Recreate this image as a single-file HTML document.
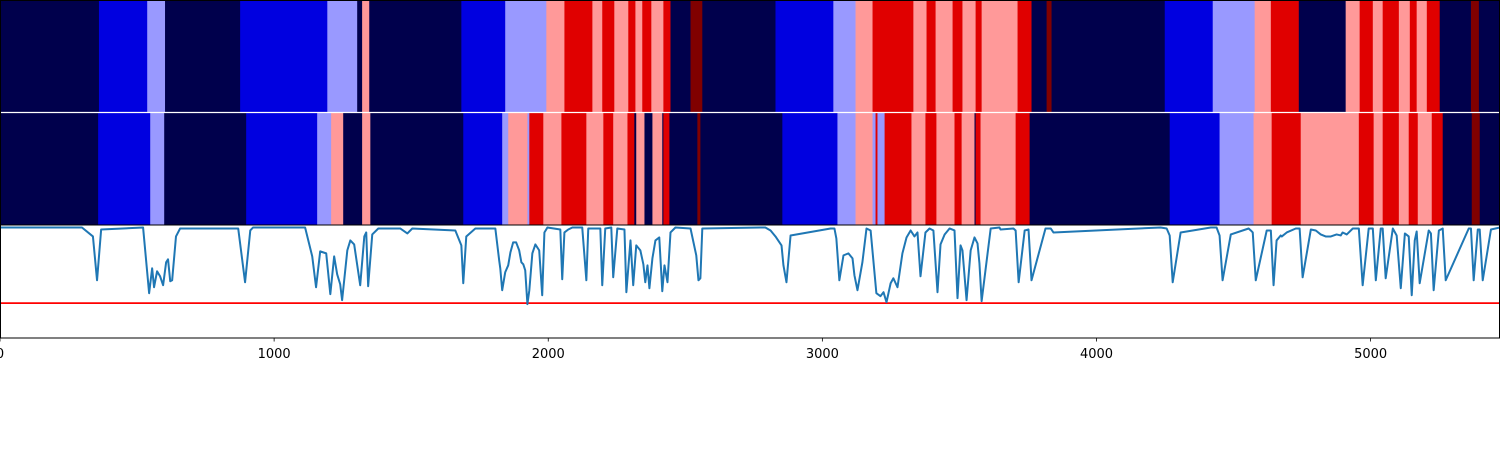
<!DOCTYPE html>
<html><head><meta charset="utf-8">
<style>
html,body{margin:0;padding:0;background:#fff;}
svg{display:block;}
text{font-family:"DejaVu Sans","Liberation Sans",sans-serif;font-size:13px;fill:#000;}
</style></head>
<body>
<svg id="chart" width="1500" height="450" viewBox="0 0 1500 450" xmlns="http://www.w3.org/2000/svg"></svg>
<script>
// ---- data ----
const xDomainMax = 5472;
const classColors = ["#00004c","#0000e0","#9999ff","#ff9999","#e00000","#800000"];
// top heatmap row: segment starts and class ids
const row1Starts = [0,361,537,602,876,1194,1303,1321,1347,1683,1843,1993,2059,2161,2197,2241,2292,2318,2343,2376,2420,2446,2519,2562,2829,3040,3121,3183,3332,3380,3413,3475,3511,3559,3581,3712,3763,3818,3836,4249,4424,4577,4636,4738,4909,4960,5008,5044,5103,5143,5168,5205,5252,5366,5395];
const row1Classes = [0,1,2,0,1,2,0,3,0,1,2,3,4,3,4,3,4,3,4,3,4,0,5,0,1,2,3,4,3,4,3,4,3,4,3,4,0,5,0,1,2,3,4,0,3,4,3,4,3,4,3,4,0,5,0];
// second heatmap row
const row2Starts = [0,358,548,599,898,1157,1208,1252,1321,1351,1690,1832,1854,1924,1931,1982,2048,2139,2201,2237,2289,2314,2321,2351,2380,2416,2420,2442,2544,2555,2854,3055,3121,3183,3194,3201,3227,3325,3376,3416,3482,3508,3555,3559,3577,3705,3756,4267,4449,4573,4639,4745,4957,5011,5044,5103,5139,5172,5223,5263,5369,5398];
const row2Classes = [0,1,2,0,1,2,3,0,3,0,1,2,3,2,4,3,4,3,4,3,4,0,3,0,3,0,4,0,5,0,1,2,3,2,4,2,4,3,4,3,4,3,0,4,3,4,0,1,2,3,4,3,4,3,4,3,4,3,4,0,5,0];
// line series (score, 0..113 scale)
const lineX = [0,299,339,354,369,522,544,555,562,573,584,595,606,613,621,628,642,657,869,894,913,923,1113,1139,1153,1168,1190,1205,1219,1230,1241,1248,1267,1278,1292,1314,1329,1336,1343,1358,1380,1460,1486,1504,1661,1683,1690,1701,1734,1807,1821,
1825,1832,1843,1854,1862,1872,1883,1894,1902,1909,1916,1924,1931,1942,1953,1967,1978,1986,1997,2044,2051,2059,2073,2088,2124,2139,2146,2190,2197,2208,2230,2237,2252,2278,2285,2300,2310,2321,2336,2347,2354,2362,2369,2380,2391,2405,2416,2424,2435,2446,2464,2519,2540,2548,2555,2562,2774,2792,2811,2829,2851,2858,2869,2884,3030,3044,3051,3062,3077,3095,3110,3117,3128,3146,3161,3176,3197,3212,3223,3234,3249,3259,3274,3292,3307,3322,3336,3347,3358,3376,3391,3405,3420,3431,3446,3464,3482,3493,3504,3511,3526,3541,3555,3566,3573,3581,3614,3646,
3650,3697,3705,3716,3738,3752,3763,3814,3833,3843,4234,4256,4267,4278,4307,4417,4438,4449,4460,4490,4555,4563,4570,4581,4621,4636,4646,4657,4672,4676,4694,4727,4741,4752,4782,4800,4818,4836,4855,4876,4891,4898,4913,4935,4957,4971,4993,5008,5019,5037,5044,5055,5081,5095,5110,5125,5139,5150,5161,5168,5179,5212,5220,5230,5249,5263,5274,5358,5366,5376,5391,5398,5409,5439,5472];
const lineV = [111,111,102,58,109,111,45,70,51,67,62,53,76,79,57,58,102,110,110,56,108,111,111,82,51,87,85,44,82,64,54,38,88,98,94,53,102,106,52,104,110,110,105,110,108,93,55,102,110,110,78,
70,48,66,73,86,96,96,88,76,74,68,34,48,85,94,88,43,106,111,109,59,106,109,111,111,58,110,110,53,110,111,61,110,109,46,98,53,93,88,74,56,73,50,80,98,101,47,73,56,106,111,110,83,58,60,110,111,111,108,102,93,73,56,103,110,110,100,58,83,85,80,63,48,76,110,108,45,42,46,36,55,60,51,85,101,108,102,106,62,106,110,108,46,94,104,110,108,40,93,88,38,88,101,95,75,37,110,111,109,
110,108,56,108,109,58,110,110,106,111,110,103,56,106,111,111,103,58,104,110,108,106,58,108,108,53,98,103,102,106,110,110,61,109,108,104,102,102,104,103,106,104,110,110,53,110,110,58,110,110,60,110,103,50,105,102,43,98,107,55,108,105,48,108,110,58,110,110,58,109,109,58,109,111,110];
const threshold = 35;
const xTicks = [0,1000,2000,3000,4000,5000];
const xTickLabels = ["0","1000","2000","3000","4000","5000"];

// ---- drawing ----
const NS = "http://www.w3.org/2000/svg";
const svg = document.getElementById("chart");
const W = 1500;
function xs(v){ return v * W / xDomainMax; }
const lineTop = 225.5, lineBot = 338;
function ys(v){ return lineBot - v * (lineBot - lineTop) / 113; }
function mk(tag, attrs){ const e = document.createElementNS(NS, tag); for (const k in attrs) e.setAttribute(k, attrs[k]); return e; }

function drawRow(starts, classes, y0, h, rowName){
  const g = mk("g", {});
  
  
  for (let i = 0; i < starts.length; i++){
    const s = starts[i], e = i + 1 < starts.length ? starts[i+1] : xDomainMax;
    const r = mk("rect", {x: xs(s), y: y0, width: Math.max(0.6, xs(e) - xs(s)) + 0.4, height: h, fill: classColors[classes[i]]});
    
    
    g.appendChild(r);
  }
  svg.appendChild(g);
}
drawRow(row1Starts, row1Classes, 0, 112, 'heatmap-row-top');
drawRow(row2Starts, row2Classes, 113, 112.5, 'heatmap-row-bottom');

const sep = mk("line", {x1:0, x2:W, y1:112.5, y2:112.5, stroke:"#fff", "stroke-width":1.2});


svg.appendChild(sep);

const frame1 = mk("rect", {x:0.5, y:0.5, width:W-1, height:224.5, fill:"none", stroke:"#000", "stroke-width":1});


svg.appendChild(frame1);

// threshold line
const th = mk("line", {x1:0, x2:W, y1:ys(threshold), y2:ys(threshold), stroke:"#ff0000", "stroke-width":1.8});


svg.appendChild(th);

// series line
let d = "";
for (let i = 0; i < lineX.length; i++){ d += (i ? "L" : "M") + xs(lineX[i]).toFixed(2) + "," + ys(lineV[i]).toFixed(2); }
const path = mk("path", {d: d, fill:"none", stroke:"#1f77b4", "stroke-width":2, "stroke-linejoin":"round"});


svg.appendChild(path);

const frame2 = mk("rect", {x:0.5, y:225, width:W-1, height:113, fill:"none", stroke:"#000", "stroke-width":1});


svg.appendChild(frame2);

// x axis ticks
const axis = mk("g", {});


for (let i = 0; i < xTicks.length; i++){
  const x = xs(xTicks[i]);
  const t = mk("line", {x1:x, x2:x, y1:338, y2:341.5, stroke:"#000", "stroke-width":0.8});
  
  
  axis.appendChild(t);
  const lb = mk("text", {x:x, y:358, "text-anchor":"middle"});
  lb.textContent = xTickLabels[i];
  
  
  axis.appendChild(lb);
}
svg.appendChild(axis);
</script>
</body></html>
